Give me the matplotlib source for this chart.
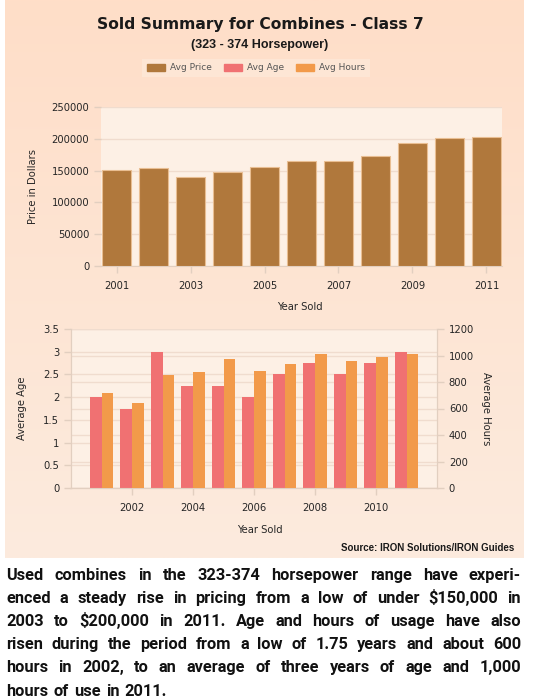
import numpy as np
import matplotlib
matplotlib.use('Agg')
import matplotlib.pyplot as plt
from matplotlib.patches import Patch
from matplotlib.backends.backend_agg import get_hinting_flag

# data
years = [2001, 2002, 2003, 2004, 2005, 2006, 2007, 2008, 2009, 2010, 2011]
avg_price = [151000, 154000, 140000, 148500, 155500, 165500, 165500, 173000, 194000, 200500, 203000]
avg_age = [2.0, 1.75, 3.0, 2.25, 2.25, 2.0, 2.5, 2.75, 2.5, 2.75, 3.0]
avg_hours = [715, 638, 853, 876, 972, 881, 936, 1014, 956, 987, 1014]

price_ticks = [0, 50000, 100000, 150000, 200000, 250000]
age_ticks = [0, 0.5, 1, 1.5, 2, 2.5, 3, 3.5]
hour_ticks = [0, 200, 400, 600, 800, 1000, 1200]

paragraph = [
    "Used combines in the 323-374 horsepower range have experi-",
    "enced a steady rise in pricing from a low of under $150,000 in",
    "2003 to $200,000 in 2011. Age and hours of usage have also",
    "risen during the period from a low of 1.75 years and about 600",
    "hours in 2002, to an average of three years of age and 1,000",
    "hours of use in 2011.",
]

BROWN = '#B0783C'
PINK = '#F07172'
ORANGE = '#F29A4A'
TXT = '#262626'
GRID = '#F0DCCE'
SPINE = '#E2CFC0'
PLOTBG = '#FDF0E5'

W, H = 533, 699
fig = plt.figure(figsize=(W / 100, H / 100), dpi=100, facecolor='white')


def rect(l, t, r, b):
    return [l / W, 1 - b / H, (r - l) / W, (b - t) / H]


# peach panel with soft vertical gradient
bg = fig.add_axes(rect(5, 0, 524, 558), zorder=-10)
grad = np.linspace(0, 1, 256).reshape(-1, 1)
top_c = np.array([255, 222, 200]) / 255
bot_c = np.array([252, 235, 222]) / 255
img = top_c + (bot_c - top_c) * grad[:, :, None]
bg.imshow(img, aspect='auto', extent=[0, 1, 0, 1], origin='upper')
bg.axis('off')

# titles
fig.text(260 / W, 1 - 25 / H, 'Sold Summary for Combines - Class 7', ha='center', va='center',
         fontsize=11.2, fontweight='bold', color='#1a1a1a', family='DejaVu Sans')
fig.text(260 / W, 1 - 45 / H, '(323 - 374 Horsepower)', ha='center', va='center',
         fontsize=9, fontweight='bold', color='#1a1a1a', family='Liberation Sans')

handles = [Patch(color=BROWN), Patch(color=PINK), Patch(color=ORANGE)]
leg = fig.legend(handles, ['Avg Price', 'Avg Age', 'Avg Hours'], ncol=3, loc='center',
                 bbox_to_anchor=(256 / W, 1 - 68 / H), frameon=True, fontsize=6.5,
                 handlelength=2.0, handleheight=0.9, columnspacing=1.4, handletextpad=0.5,
                 borderpad=0.5, fancybox=False)
leg.get_frame().set_facecolor('#FDE8D8')
leg.get_frame().set_edgecolor('none')
for t in leg.get_texts():
    t.set_color('#555555')

tick_kw = dict(labelsize=7.2, labelcolor=TXT, color=SPINE, length=5, width=1)

# ---- top chart: price ----
ax1 = fig.add_axes(rect(101, 107, 502, 266))
ax1.set_facecolor(PLOTBG)
ax1.bar(years, avg_price, width=0.8, color=BROWN, edgecolor='#E9BE92', linewidth=0.8, zorder=3)
ax1.set_xlim(2000.58, 2011.42)
ax1.set_ylim(0, 250000)
ax1.set_yticks(price_ticks)
ax1.set_xticks(years[::2])
ax1.tick_params(**tick_kw)
ax1.tick_params(axis='x', pad=6)
ax1.grid(axis='y', color=GRID, lw=1, zorder=0)
for s in ['top', 'right', 'left']:
    ax1.spines[s].set_visible(False)
ax1.spines['bottom'].set_color(SPINE)
ax1.set_ylabel('Price in Dollars', fontsize=7.2, color=TXT, labelpad=10)
ax1.set_xlabel('Year Sold', fontsize=7.2, color=TXT)
ax1.xaxis.set_label_coords((300 - 101) / (502 - 101), -(302 - 266) / (266 - 107))

# ---- bottom chart: age and hours ----
ax2 = fig.add_axes(rect(71, 329, 437, 488))
ax2.set_facecolor(PLOTBG)
x = np.array(years)
ax2.bar(x, avg_age, width=-0.39, align='edge', color=PINK, zorder=3)
ax2.set_xlim(2000, 2012)
ax2.set_ylim(0, 3.5)
ax2.set_yticks(age_ticks)
ax2.set_yticklabels(['0', '0.5', '1', '1.5', '2', '2.5', '3', '3.5'])
ax2.set_xticks(years[1::2])
ax2.tick_params(**tick_kw)
ax2.tick_params(axis='x', pad=6)
ax2.grid(axis='y', color=GRID, lw=1, zorder=0)
# gridlines of the hours axis, drawn under the bars
for h in hour_ticks:
    ax2.axhline(h * 3.5 / 1200, color=GRID, lw=1, zorder=0)
ax2.spines['top'].set_visible(False)
for s in ['left', 'right', 'bottom']:
    ax2.spines[s].set_color(SPINE)
ax2.set_ylabel('Average Age', fontsize=7.2, color=TXT, labelpad=12)
ax2.set_xlabel('Year Sold', fontsize=7.2, color=TXT)
ax2.xaxis.set_label_coords((260 - 71) / (437 - 71), -(525 - 488) / (488 - 329))

ax3 = ax2.twinx()
ax3.bar(x, avg_hours, width=0.39, align='edge', color=ORANGE, zorder=3)
ax3.set_ylim(0, 1200)
ax3.set_yticks(hour_ticks)
ax3.tick_params(**tick_kw)
ax3.spines['top'].set_visible(False)
for s in ['left', 'right', 'bottom']:
    ax3.spines[s].set_color(SPINE)
ax3.set_ylabel('Average Hours', fontsize=7.2, color=TXT, rotation=270, labelpad=12)

fig.text(514 / W, 1 - 548 / H, 'Source: IRON Solutions/IRON Guides', ha='right', va='center',
         fontsize=7, fontweight='bold', color='#1a1a1a', family='Liberation Sans', fontstretch='condensed')

# ---- justified paragraph, one text per word ----
renderer = fig.canvas.get_renderer()
left_px, right_px = 6, 521
y0, dy = 580, 23.1
fs = 11.8
txt_kw = dict(fontsize=fs, fontweight='bold', family='Roboto', color='#111111', va='baseline', ha='left')


def ink_row(word, prop, b):
    # row where Agg puts the word's baseline when asked for baseline row b
    font = renderer._prepare_font(prop)
    font.set_text(word, 0, flags=get_hinting_flag())
    font.draw_glyphs_to_bitmap(antialiased=True)
    d = font.get_descent() / 64.0
    h = np.asarray(font.get_image()).shape[0]
    ymax = font.get_width_height()[1] / 64.0 - d
    return round(b + d) + 1 - h + np.floor(ymax) + 1


for i, line in enumerate(paragraph):
    words = line.split(' ')
    b = round(y0 + i * dy)
    objs = [fig.text(0, 1 - b / H, w, **txt_kw) for w in words]
    widths = [o.get_window_extent(renderer).width for o in objs]
    if i < len(paragraph) - 1:
        gap = (right_px - left_px - sum(widths)) / (len(words) - 1)
    else:
        gap = fs * 0.45
    xpos = left_px
    try:
        rows = [ink_row(w, o.get_fontproperties(), b) for w, o in zip(words, objs)]
        target = rows[0]
    except Exception:
        rows, target = None, None
    for k, (o, w) in enumerate(zip(objs, widths)):
        o.set_x(xpos / W)
        if rows is not None:
            o.set_y(1 - (b + target - rows[k]) / H)
        xpos += w + gap

fig.savefig('out.png', dpi=100, facecolor='white')
